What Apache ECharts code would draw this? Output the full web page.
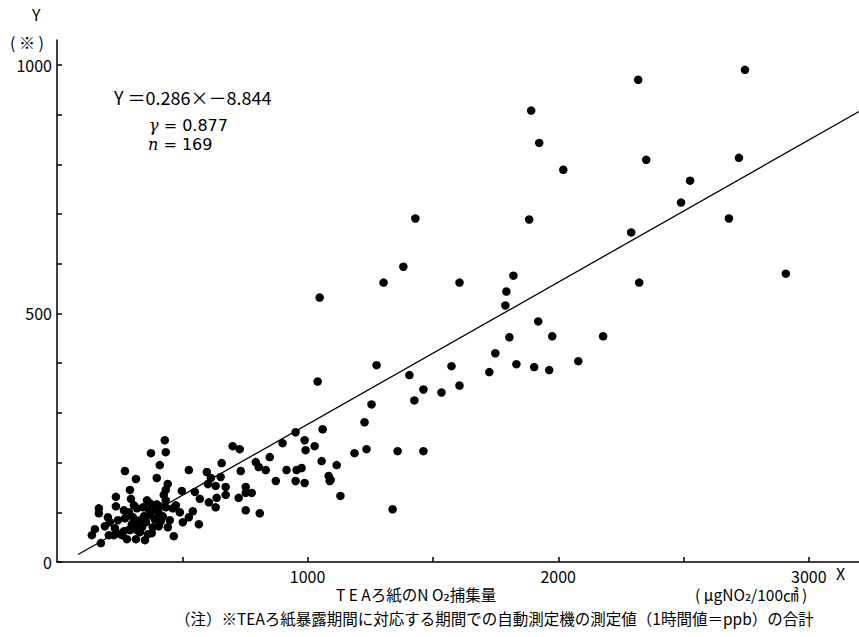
<!DOCTYPE html>
<html>
<head>
<meta charset="utf-8">
<style>
  html, body { margin: 0; padding: 0; background: #fff; }
  #chart { width: 859px; height: 637px; }
</style>
<script src="https://cdn.jsdelivr.net/npm/echarts@6/dist/echarts.min.js"></script>
</head>
<body>
<div id="chart"></div>
<script>
// TEA filter NO2 amount (x) vs. summed hourly ppb from the monitor (y)
const teaX = [
  2745, 2319, 1892, 1924, 2020, 2351, 2721, 2526, 2490, 2291,
  2681, 2323, 2908, 1430, 1884, 1382, 1303, 1606, 1821, 1793,
  1789, 1920, 1976, 1805, 2179, 1749, 2080, 1275, 1574, 1833,
  1904, 1964, 1725, 1406, 1462, 1606, 1534, 1426, 1255, 1227,
  1235, 1187, 1359, 1462, 1116, 1092, 1131, 1339, 1048, 1040,
  1060, 952, 900, 988, 1028, 992, 1056, 1084, 1088, 952,
  956, 976, 916,
  430, 375, 434, 271, 410, 315, 398, 291, 295, 235,
  442, 434, 426, 526, 598, 614, 602, 657, 653, 701,
  729, 733, 633, 673, 673, 637, 633, 606, 570, 550,
  498, 526, 542, 502, 566, 753, 753, 725, 777, 753,
  809, 793, 805, 833, 849, 873, 988,
  167, 167, 203, 235, 151, 139, 175, 191, 231, 207,
  239, 267, 267, 271, 315, 279, 259, 466, 442, 367,
  378, 406, 303, 339, 363, 406, 319, 347, 299, 331,
  287, 390, 462, 434, 410, 371, 343, 311, 382, 227,
  331, 355, 371, 394, 422, 450, 319, 378, 351, 291,
  414, 359, 398, 474, 490, 243, 211, 307, 434
];
const sumY = [
  990, 970, 908, 843, 789, 809, 813, 767, 723, 663,
  691, 562, 580, 691, 689, 594, 562, 562, 576, 544,
  516, 484, 454, 452, 454, 420, 404, 396, 394, 398,
  392, 386, 382, 376, 347, 355, 341, 325, 317, 281,
  227, 219, 223, 223, 195, 165, 133, 106, 532, 363,
  267, 261, 239, 245, 233, 225, 203, 173, 163, 163,
  185, 189, 185,
  245, 219, 221, 183, 195, 167, 169, 145, 127, 131,
  157, 145, 135, 185, 181, 169, 157, 199, 171, 233,
  227, 183, 153, 151, 135, 129, 110, 120, 127, 141,
  143, 90, 102, 80, 76, 151, 139, 129, 139, 104,
  98, 201, 191, 185, 211, 163, 159,
  108, 98, 90, 112, 66, 54, 38, 72, 68, 54,
  58, 62, 104, 88, 46, 46, 54, 52, 70, 104,
  112, 98, 90, 70, 56, 72, 108, 92, 76, 60,
  100, 86, 108, 110, 112, 118, 110, 78, 70, 54,
  84, 80, 94, 104, 92, 84, 64, 58, 44, 64,
  82, 124, 116, 114, 100, 84, 80, 114, 124
];
// regression line Y = 0.286X - 8.844, end points as drawn
const regX = [84, 3200];
const regY = [15, 906];

const xTicks = [500, 1000, 1500, 2000, 2500, 3000];
const xLabels = [1000, 2000, 3000];
const yTicks = [0, 100, 200, 300, 400, 500, 600, 700, 800, 900, 1000];
const yLabels = [0, 500, 1000];

const points = teaX.map((x, i) => [x, sumY[i]]);
const regLine = regX.map((x, i) => [x, regY[i]]);

const jp = '"Noto Sans CJK JP", "DejaVu Sans", sans-serif';
const lat = '"DejaVu Sans", sans-serif';
const it = '"DejaVu Serif", serif';
var chart = echarts.init(document.getElementById('chart'), null, { renderer: 'svg' });

option = {
  animation: false,
  backgroundColor: '#fff',
  grid: { left: 57, right: 0, top: 40, bottom: 75 },
  xAxis: {
    type: 'value',
    min: 0,
    max: 3200,
    axisLine: { lineStyle: { color: '#000', width: 1.5 } },
    axisTick: { inside: true, length: 5, customValues: xTicks, lineStyle: { color: '#000', width: 1.5 } },
    axisLabel: {
      customValues: xLabels,
      formatter: (v) => String(v),
      color: '#000',
      fontSize: 16,
      fontFamily: jp,
      margin: 6
    },
    splitLine: { show: false }
  },
  yAxis: {
    type: 'value',
    min: 0,
    max: 1050,
    axisLine: { show: true, lineStyle: { color: '#000', width: 1.5 } },
    axisTick: { show: true, inside: true, length: 5, customValues: yTicks, lineStyle: { color: '#000', width: 1.5 } },
    axisLabel: {
      customValues: yLabels,
      formatter: (v) => String(v),
      color: '#000',
      fontSize: 16,
      fontFamily: jp,
      margin: 5
    },
    splitLine: { show: false }
  },
  graphic: [
    { type: 'text', left: 32, top: 6, style: { text: 'Y', fontSize: 16, fontFamily: jp, fill: '#000' } },
    { type: 'text', left: 10, top: 34, style: { text: '( ※ )', fontSize: 16, fontFamily: jp, fill: '#000' } },
    {
      type: 'text', left: 114, top: 88,
      style: { text: 'Y ＝0.286×－8.844', fontSize: 18, fontFamily: jp, fill: '#000' }
    },
    {
      type: 'text', left: 149, top: 117,
      style: {
        text: '{i|γ} = 0.877', fontSize: 16, fontFamily: lat, fill: '#000',
        rich: { i: { fontStyle: 'italic', fontFamily: it, fontSize: 16 } }
      }
    },
    {
      type: 'text', left: 148, top: 136,
      style: {
        text: '{i|n} = 169', fontSize: 16, fontFamily: lat, fill: '#000',
        rich: { i: { fontStyle: 'italic', fontFamily: it, fontSize: 16 } }
      }
    },
    { type: 'text', left: 836, top: 565, style: { text: 'X', fontSize: 16, fontFamily: jp, fill: '#000' } },
    {
      type: 'text', left: 336, top: 586,
      style: { text: 'T E Aろ紙のN O₂捕集量', fontSize: 15.5, fontFamily: jp, fill: '#000' }
    },
    {
      type: 'text', left: 695, top: 586,
      style: { text: '( μgNO₂/100㎠ )', fontSize: 15.5, fontFamily: jp, fill: '#000' }
    },
    {
      type: 'text', left: 175, top: 610,
      style: {
        text: '（注）※TEAろ紙暴露期間に対応する期間での自動測定機の測定値（1時間値＝ppb）の合計',
        fontSize: 15.5, fontFamily: jp, fill: '#000'
      }
    }
  ],
  series: [
    {
      type: 'line',
      data: regLine,
      symbol: 'none',
      lineStyle: { color: '#000', width: 1.3 },
      z: 1
    },
    {
      type: 'scatter',
      data: points,
      symbol: 'circle',
      symbolSize: 8.5,
      itemStyle: { color: '#000', opacity: 1 },
      z: 2
    }
  ]
};

if (option && typeof option === 'object') {
  chart.setOption(option);
}
</script>
</body>
</html>
